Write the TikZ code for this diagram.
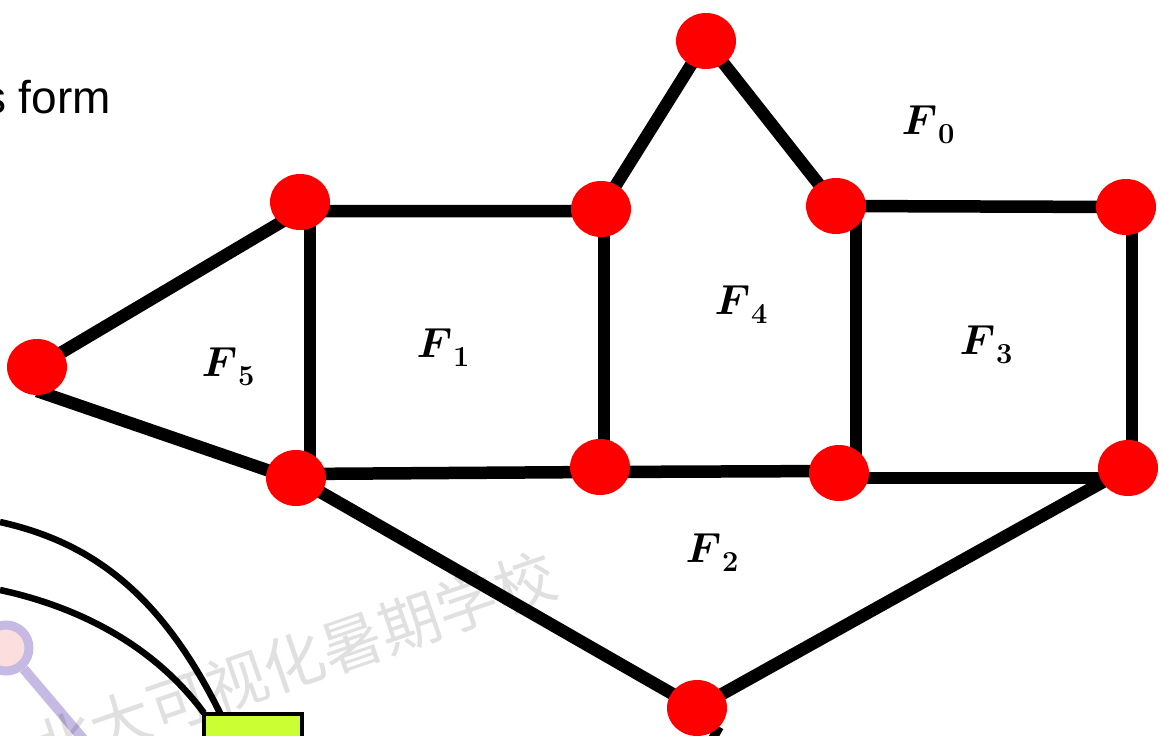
\RequirePackage{fix-cm}
\documentclass[tikz,border=0pt]{standalone}
\usepackage{amsmath,amssymb}
\usepackage{fontspec}
\newfontfamily\slidefont{Liberation Sans}
\newfontfamily\cjk{Noto Sans CJK SC}
\usetikzlibrary{shapes.geometric,backgrounds}
\definecolor{Vertex}{HTML}{FF0000}
\definecolor{Lime}{HTML}{CCFF33}
\definecolor{Lilac}{HTML}{C6BAE5}
\definecolor{Blush}{HTML}{FDDEDE}
\newcommand{\facelab}[1]{$\boldsymbol{F}$\kern1pt\raisebox{-9pt}{\fontsize{29}{29}\selectfont\bfseries #1}}

\begin{document}
\begin{tikzpicture}[x=1pt,y=-1pt,
  vtx/.style={ellipse,fill=Vertex,minimum width=60pt,minimum height=56pt,inner sep=0pt},
  edge/.style={line width=12.5pt},
  face/.style={font=\fontsize{42}{50}\selectfont,inner sep=0pt}]
  \useasboundingbox (0,0) rectangle (1162,736);
  \clip (0,0) rectangle (1162,736);
  % text left over from the slide
  \node[anchor=base east,font=\slidefont\fontsize{46}{55}\selectfont,inner sep=0pt] (caption) at (111,113) {s form};
  % vertices
  \node[vtx] (apex) at (706,41) {};
  \node[vtx] (tl) at (300,202) {};
  \node[vtx] (tm) at (601,209) {};
  \node[vtx] (tr) at (836,206) {};
  \node[vtx] (tfar) at (1126,207) {};
  \node[vtx] (left) at (37,367) {};
  \node[vtx] (bl) at (296,478) {};
  \node[vtx] (bm) at (600,467) {};
  \node[vtx] (br) at (839,473) {};
  \node[vtx] (bfar) at (1128,468) {};
  \node[vtx] (bot) at (697,708) {};
  \coordinate (tail) at (700,760);
  \begin{scope}[on background layer]
    \draw[edge] (left.center)--([shift={(0,9)}]tl.center)--([shift={(0,2)}]tm.center);
    \draw[edge] ([shift={(0,24)}]left.center)--([shift={(0,2)}]bl.center);
    \draw[edge] ([shift={(10,9)}]tl.center)--([shift={(14,-4)}]bl.center);
    \draw[edge] ([shift={(3,0)}]tm.center)--([shift={(4,0)}]bm.center);
    \draw[edge] (tm.center)--(apex.center)--(tr.center)--(tfar.center);
    \draw[edge] ([shift={(20,0)}]tr.center)--([shift={(17,0)}]br.center);
    \draw[edge] ([shift={(6,0)}]tfar.center)--([shift={(4,0)}]bfar.center);
    \draw[edge] ([shift={(0,-4)}]bl.center)--([shift={(0,5)}]bm.center)--([shift={(0,-2)}]br.center);
    \draw[edge] ([shift={(0,5)}]br.center)--([shift={(0,10)}]bfar.center);
    \draw[edge] (bl.center)--(bot.center)--(bfar.center);
    \draw[line width=9pt] (bot.-40)--(tail);
  \end{scope}
  % faces
  \node[face] (f0) at (928,125) {\facelab{0}};
  \node[face] (f4) at (741,305) {\facelab{4}};
  \node[face] (f5) at (228,367) {\facelab{5}};
  \node[face] (f1) at (443,348) {\facelab{1}};
  \node[face] (f3) at (986,345) {\facelab{3}};
  \node[face] (f2) at (712,553) {\facelab{2}};
  % bits of the next figure
  \node[draw,line width=4pt,fill=Lime,minimum width=98pt,minimum height=80pt,inner sep=0pt,anchor=north west] (box) at (202,712) {};
  \node[circle,draw=Lilac,line width=9pt,fill=Blush,minimum size=46pt,inner sep=0pt] (hub) at (6,648) {};
  \coordinate (stem) at (84,740);
  \draw[Lilac,line width=10pt] (hub)--(stem);
  \coordinate (w1) at (0,522);
  \coordinate (w2) at (0,590);
  \draw[line width=6.5pt] (w1) .. controls (90,542) and (160,592) .. ([xshift=18pt,yshift=-1pt]box.north west);
  \draw[line width=6.5pt] (w2) .. controls (70,605) and (150,640) .. ([xshift=2pt,yshift=-1pt]box.north west);
  % watermark
  \node[rotate=19,text=black,text opacity=0.12,font=\cjk\fontsize{61}{61}\selectfont] (mark) at (294,662) {北大可视化暑期学校};
\end{tikzpicture}
\end{document}
